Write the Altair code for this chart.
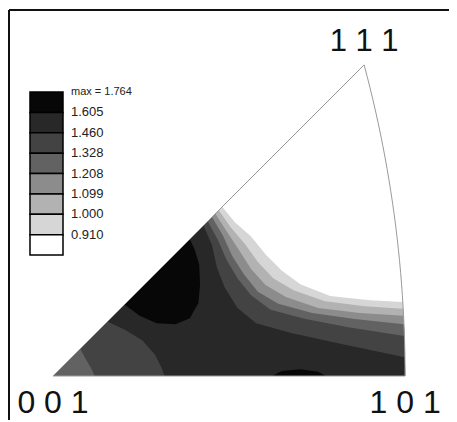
import numpy as np
import pandas as pd
import altair as alt

# contour levels and grey shades (index 0 = below 0.910, last = above 1.605)
levels = [0.910, 1.000, 1.099, 1.208, 1.328, 1.460, 1.605]
grays = ["#ffffff", "#d6d6d6", "#b2b2b2", "#8c8c8c", "#626262", "#434343", "#282828", "#070707"]
max_value = 1.764

# contour lines in stereographic coordinates (u, v), from the 001-111 edge to the 101-111 arc
c0910 = [(0.199, 0.199), (0.214, 0.181), (0.233, 0.164), (0.251, 0.142), (0.269, 0.124),
         (0.291, 0.108), (0.326, 0.094), (0.373, 0.089), (0.412, 0.087)]
c1000 = [(0.195, 0.195), (0.209, 0.175), (0.226, 0.155), (0.241, 0.134), (0.259, 0.115),
         (0.283, 0.101), (0.320, 0.088), (0.367, 0.082), (0.412, 0.079)]
c1099 = [(0.191, 0.191), (0.205, 0.169), (0.219, 0.148), (0.233, 0.126), (0.250, 0.107),
         (0.274, 0.093), (0.312, 0.080), (0.361, 0.074), (0.412, 0.071)]
c1208 = [(0.187, 0.187), (0.200, 0.165), (0.211, 0.141), (0.225, 0.119), (0.241, 0.099),
         (0.265, 0.085), (0.305, 0.074), (0.355, 0.067), (0.412, 0.061)]
c1328 = [(0.182, 0.182), (0.194, 0.160), (0.204, 0.137), (0.217, 0.115), (0.233, 0.095),
         (0.256, 0.078), (0.297, 0.067), (0.349, 0.057), (0.413, 0.047)]
c1460 = [(0.177, 0.177), (0.187, 0.154), (0.193, 0.127), (0.202, 0.104), (0.217, 0.080),
         (0.239, 0.062), (0.279, 0.051), (0.338, 0.038), (0.414, 0.022)]
# lower-left contours (001-111 edge to 001-101 edge)
c1328_low = [(0.032, 0.032), (0.039, 0.019), (0.046, 0.007), (0.049, 0.0)]
c1460_low = [(0.064, 0.064), (0.085, 0.054), (0.105, 0.042), (0.120, 0.025), (0.128, 0.009), (0.131, 0.0)]
# islands above 1.605
blob = [(0.084, 0.084), (0.102, 0.071), (0.122, 0.062), (0.144, 0.061), (0.161, 0.068),
        (0.171, 0.086), (0.173, 0.107), (0.172, 0.131), (0.167, 0.148), (0.161, 0.161)]
sliver = [(0.258, 0.0), (0.269, 0.006), (0.291, 0.008), (0.312, 0.005), (0.321, 0.0)]

legend_labels = ["max = 1.764", "1.605", "1.460", "1.328", "1.208", "1.099", "1.000", "0.910"]
legend_levels = [1.605, 1.460, 1.328, 1.208, 1.099, 1.000, 0.910, 0.80]
corner_labels = ["0 0 1", "1 0 1", "1 1 1"]

v111 = 1.0 / (np.sqrt(3.0) + 1.0)
u101 = np.sqrt(2.0) - 1.0


def arc(v_from, n=28):
    vs = np.linspace(v_from, 0.0, n)
    return [(float(np.sqrt(2 - v * v) - 1), float(v)) for v in vs]


def snap(line):
    pts = [tuple(p) for p in line]
    v = pts[-1][1]
    pts[-1] = (float(np.sqrt(2 - v * v) - 1), v)
    return pts


def region(line, low=None):
    line = snap(line)
    ring = line + arc(line[-1][1])[1:]
    if low is None:
        return [(0.0, 0.0)] + ring + [(0.0, 0.0)]
    return [low[0]] + ring + low[::-1]


def feature(ring, level):
    return {"type": "Feature", "properties": {"level": level},
            "geometry": {"type": "Polygon", "coordinates": [[[float(a), float(b)] for a, b in ring]]}}


triangle = [(0.0, 0.0), (v111, v111)] + arc(v111)[1:] + [(0.0, 0.0)]

feats = [
    feature(triangle, 0.80),
    feature(region(c0910), 0.910),
    feature(region(c1000), 1.000),
    feature(region(c1099), 1.099),
    feature(region(c1208), 1.208),
    feature(region(c1328, c1328_low), 1.328),
    feature(region(c1460, c1460_low), 1.460),
    feature(blob + [blob[0]], 1.605),
    feature(sliver + [sliver[0]], 1.605),
]

proj = dict(type="identity", scale=850, translate=[44, 366], reflectY=True)
color_scale = alt.Scale(type="threshold", domain=levels, range=grays)

fills = alt.Chart(alt.Data(values=feats)).mark_geoshape(strokeWidth=0).encode(
    color=alt.Color("properties.level:Q", scale=color_scale, legend=None)
).project(**proj)

outline = alt.Chart(alt.Data(values=[feature(triangle, 0.0)])).mark_geoshape(
    filled=False, stroke="#9a9a9a", strokeWidth=1
).project(**proj)

corner_df = pd.DataFrame({"u": [0.0, u101, v111], "v": [0.0, 0.0, v111], "label": corner_labels})

bottom_text = alt.Chart(corner_df.iloc[:2]).mark_text(
    font="Liberation Sans", fontSize=32, dy=37, align="center", baseline="alphabetic", color="#111"
).encode(longitude="u:Q", latitude="v:Q", text="label:N").project(**proj)

top_text = alt.Chart(corner_df.iloc[2:]).mark_text(
    font="Liberation Sans", fontSize=31, dy=-14, align="center", baseline="alphabetic", color="#111"
).encode(longitude="u:Q", latitude="v:Q", text="label:N").project(**proj)

legend_y = alt.Scale(domain=[0, 8], range=[82, 245])
box_df = pd.DataFrame({"i0": list(range(8)), "i1": list(range(1, 9)), "lv": legend_levels})
lab_df = pd.DataFrame({"b": list(range(8)), "t": legend_labels,
                       "fs": [11] + [13] * 7})

boxes = alt.Chart(box_df).mark_rect(stroke="#000", strokeWidth=1.5).encode(
    x=alt.value(21), x2=alt.value(54),
    y=alt.Y("i0:Q", scale=legend_y, axis=None), y2="i1:Q",
    color=alt.Color("lv:Q", scale=color_scale, legend=None),
)
labels = alt.Chart(lab_df).mark_text(
    align="left", baseline="middle", font="Liberation Sans", color="#222"
).encode(
    x=alt.value(62), y=alt.Y("b:Q", scale=legend_y, axis=None), text="t:N",
    size=alt.Size("fs:Q", scale=None, legend=None),
)

one = pd.DataFrame({"a": [0]})
top_rule = alt.Chart(one).mark_rule(color="#111", strokeWidth=2).encode(
    x=alt.value(0), x2=alt.value(440), y=alt.value(0))
left_rule = alt.Chart(one).mark_rule(color="#111", strokeWidth=2).encode(
    x=alt.value(0), y=alt.value(0), y2=alt.value(410))

chart = alt.layer(fills, outline, bottom_text, top_text, boxes, labels, top_rule, left_rule).properties(
    width=440, height=410,
    padding={"left": 1, "top": 2, "right": 0, "bottom": 0},
    autosize=alt.AutoSizeParams(type="none"),
).configure_view(strokeWidth=0)

chart.save("out.html", embed_options={"renderer": "svg", "actions": False})
